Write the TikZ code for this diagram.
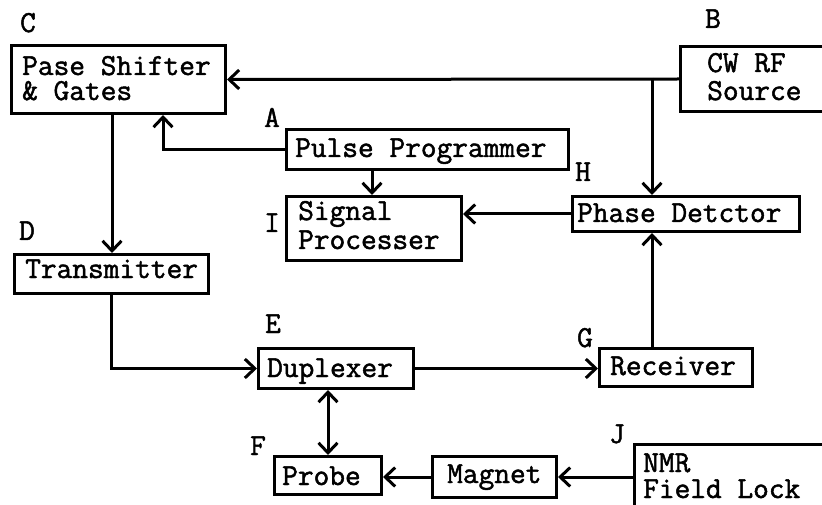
\documentclass[tikz,border=0pt]{standalone}
\usepackage{fontspec}
\newfontfamily\monofam{Latin Modern Mono}[FakeBold=1.6]
\usetikzlibrary{arrows.meta}
\newcommand{\mfont}{\monofam\fontsize{30.5}{34}\selectfont}
\tikzset{
  box/.style={draw, line width=3pt, anchor=north west, inner sep=0pt},
  txt/.style={anchor=base west, inner sep=0pt, font=\mfont},
  txttwo/.style={anchor=base west, inner sep=0pt, align=left, font=\monofam\fontsize{30.5}{#1}\selectfont},
  lbl/.style={anchor=base, inner sep=0pt, font=\mfont},
  conn/.style={line width=3pt, -{Straight Barb[length=10pt,width=19pt,line width=3pt]}},
  bconn/.style={line width=3pt, {Straight Barb[length=10pt,width=19pt,line width=3pt]}-{Straight Barb[length=10pt,width=19pt,line width=3pt]}}
}
\begin{document}
\begin{tikzpicture}[x=1pt,y=-1pt]
\useasboundingbox (0,0) rectangle (822,505);
\clip (0,0) rectangle (822,505);
% boxes
\node[box, minimum width=214pt, minimum height=68pt] (C) at (10,44) {};
\node[box, minimum width=200pt, minimum height=65pt] (B) at (679,45) {};
\node[box, minimum width=282pt, minimum height=40pt] (A) at (285,128) {};
\node[box, minimum width=175pt, minimum height=64pt] (I) at (285,195) {};
\node[box, minimum width=227pt, minimum height=35pt] (H) at (571,195) {};
\node[box, minimum width=194pt, minimum height=39pt] (D) at (13,253) {};
\node[box, minimum width=155pt, minimum height=40pt] (E) at (257,347) {};
\node[box, minimum width=153pt, minimum height=38pt] (G) at (598,347) {};
\node[box, minimum width=107pt, minimum height=38pt] (F) at (273,455) {};
\node[box, minimum width=124pt, minimum height=41pt] (M) at (431,455) {};
\node[box, minimum width=200pt, minimum height=100pt] (J) at (633,443) {};
% texts
\node[txttwo=25pt] (tC) at (22,100) {Pase Shifter\\\& Gates};
\node[txttwo=28pt] (tB) at (707,100) {CW RF\\Source};
\node[txt] (tA) at (295,157) {Pulse Programmer};
\node[txttwo=29pt] (tI) at (298,249) {Signal\\Processer};
\node[txt] (tH) at (577,222) {Phase Detctor};
\node[txt] (tD) at (25,278) {Transmitter};
\node[txt] (tE) at (267,377) {Duplexer};
\node[txt] (tG) at (610,375) {Receiver};
\node[txt] (tF) at (282,485) {Probe};
\node[txt] (tM) at (447,483) {Magnet};
\node[txttwo=26pt] (tJ) at (643,498) {NMR\\Field Lock};
% letter labels
\node[lbl] (lC) at (28,32) {C};
\node[lbl] (lB) at (713,28) {B};
\node[lbl] (lA) at (272,127) {A};
\node[lbl] (lI) at (272,232) {I};
\node[lbl] (lD) at (27,240) {D};
\node[lbl] (lH) at (583,181) {H};
\node[lbl] (lE) at (273,333) {E};
\node[lbl] (lG) at (585,347) {G};
\node[lbl] (lF) at (258,455) {F};
\node[lbl] (lJ) at (617,443) {J};
% helper coordinates
\coordinate (j1) at (652,78);
\coordinate (xAC) at (163,0);
\coordinate (xAI) at (372,0);
\coordinate (xCD) at (112,0);
\coordinate (xEF) at (328,0);
% connectors
\draw[conn] (B.west) -- (C.east);
\draw[conn] (j1) -- (j1 |- H.north);
\draw[conn] (A.west) -| (C.south -| xAC);
\draw[conn] (A.south -| xAI) -- (I.north -| xAI);
\draw[conn] (H.west) -- (H.west -| I.east);
\draw[conn] (C.south -| xCD) -- (D.north -| xCD);
\draw[conn] (D.south) |- (E.west);
\draw[conn] (E.east) -- (E.east -| G.west);
\draw[conn] (G.north -| j1) -- (H.south -| j1);
\draw[bconn] (E.south -| xEF) -- (F.north -| xEF);
\draw[conn] (M.west) -- (M.west -| F.east);
\draw[conn] (J.west |- M.west) -- (M.east);
\end{tikzpicture}
\end{document}
